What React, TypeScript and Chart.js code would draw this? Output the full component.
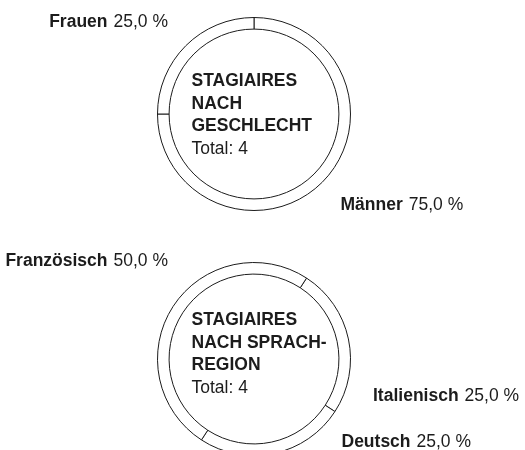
import React, { useEffect, useRef } from "react";
import { Chart, registerables } from "chart.js";

Chart.register(...registerables);

// ---- data ----
const genderLabels = ["Männer", "Frauen"];
const genderValues = [3, 1];
const genderTitle = ["STAGIAIRES", "NACH", "GESCHLECHT"];

const languageLabels = ["Italienisch", "Deutsch", "Französisch"];
const languageValues = [1, 1, 2];
const languageTitle = ["STAGIAIRES", "NACH SPRACH-", "REGION"];

// ---- layout (not data) ----
const FONT = '"Liberation Sans", Arial, sans-serif';
const FS = 17.5;
const TEXT = "#1c1c1c";
const W = 525;

type Cfg = {
  labels: string[];
  values: number[];
  title: string[];
  rotation: number;
  canvasTop: number;
  canvasHeight: number;
  padTop: number;
  titleOffset: number;
  labelOffsets: [number, number][];
};

const charts: Cfg[] = [
  {
    labels: genderLabels,
    values: genderValues,
    title: genderTitle,
    rotation: 0,
    canvasTop: 0,
    canvasHeight: 240,
    padTop: 17,
    titleOffset: -28,
    labelOffsets: [
      [86.5, 91],
      [-86, -92],
    ],
  },
  {
    labels: languageLabels,
    values: languageValues,
    title: languageTitle,
    rotation: 33,
    canvasTop: 240,
    canvasHeight: 230,
    padTop: 22,
    titleOffset: -34,
    labelOffsets: [
      [119, 37],
      [87.5, 83],
      [-86, -98],
    ],
  },
];

function fmt(v: number, total: number) {
  return (v / total * 100).toFixed(1).replace(".", ",") + " %";
}

function makePlugin(cfg: Cfg) {
  return {
    id: "doughnutText",
    afterDraw(chart: any) {
      const ctx = chart.ctx as CanvasRenderingContext2D;
      const meta = chart.getDatasetMeta(0);
      const arc = meta.data[0];
      if (!arc) return;
      const cx = arc.x;
      const cy = arc.y;
      const total = cfg.values.reduce((a, b) => a + b, 0);
      ctx.save();
      ctx.fillStyle = TEXT;
      ctx.textAlign = "left";
      ctx.textBaseline = "alphabetic";
      const left = cx - 62.5;
      const lh = 22.6;
      ctx.font = `bold ${FS}px ${FONT}`;
      cfg.title.forEach((t, i) => {
        ctx.fillText(t, left, cy + cfg.titleOffset + i * lh);
      });
      ctx.font = `${FS}px ${FONT}`;
      ctx.fillText(`Total: ${total}`, left, cy + cfg.titleOffset + cfg.title.length * lh);

      ctx.textBaseline = "middle";
      cfg.labels.forEach((name, i) => {
        const [dx, dy] = cfg.labelOffsets[i];
        const val = fmt(cfg.values[i], total);
        ctx.font = `bold ${FS}px ${FONT}`;
        const wName = ctx.measureText(name).width;
        ctx.font = `${FS}px ${FONT}`;
        const wVal = ctx.measureText(val).width;
        const gap = 6;
        const y = cy + dy;
        const x0 = dx >= 0 ? cx + dx : cx + dx - (wName + gap + wVal);
        ctx.font = `bold ${FS}px ${FONT}`;
        ctx.fillText(name, x0, y);
        ctx.font = `${FS}px ${FONT}`;
        ctx.fillText(val, x0 + wName + gap, y);
      });
      ctx.restore();
    },
  };
}

function Donut({ cfg }: { cfg: Cfg }) {
  const ref = useRef<HTMLCanvasElement | null>(null);
  useEffect(() => {
    if (!ref.current) return;
    const size = 194;
    const padLeft = 157;
    const chart = new Chart(ref.current, {
      type: "doughnut",
      data: {
        labels: cfg.labels,
        datasets: [
          {
            data: cfg.values,
            backgroundColor: "#ffffff",
            borderColor: TEXT,
            borderWidth: 1,
            hoverOffset: 0,
          },
        ],
      },
      options: {
        responsive: false,
        animation: false,
        cutout: "88%",
        rotation: cfg.rotation,
        layout: {
          padding: {
            left: padLeft,
            right: W - padLeft - size,
            top: cfg.padTop,
            bottom: cfg.canvasHeight - cfg.padTop - size,
          },
        },
        plugins: {
          legend: { display: false },
          tooltip: { enabled: false },
        },
        events: [],
      },
      plugins: [makePlugin(cfg)],
    });
    return () => chart.destroy();
  }, [cfg]);
  return (
    <canvas
      ref={ref}
      width={W}
      height={cfg.canvasHeight}
      style={{ position: "absolute", left: 0, top: cfg.canvasTop, width: W, height: cfg.canvasHeight }}
    />
  );
}

export default function App() {
  return (
    <div
      style={{
        position: "fixed",
        left: 0,
        top: 0,
        width: W,
        height: 450,
        overflow: "hidden",
        background: "#fff",
      }}
    >
      {charts.map((c, i) => (
        <Donut key={i} cfg={c} />
      ))}
    </div>
  );
}
